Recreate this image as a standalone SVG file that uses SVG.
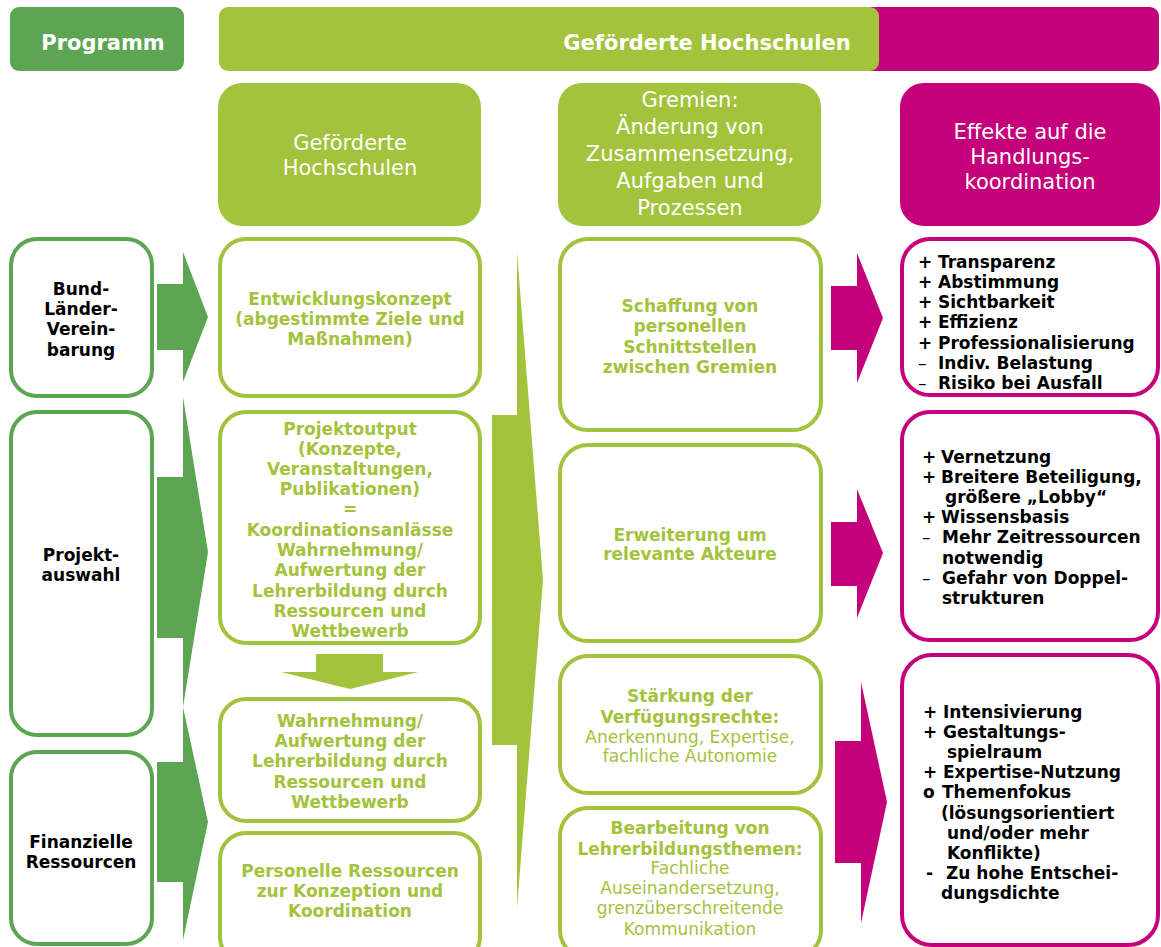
<svg xmlns="http://www.w3.org/2000/svg" width="1161" height="947" viewBox="0 0 1161 947">
  <style>
    .t { font-family: "DejaVu Sans", Verdana, sans-serif; font-size: 17px; text-anchor: middle; }
    .l { text-anchor: start; }
    .b { font-weight: bold; }
    .hd { font-family: "DejaVu Sans", Verdana, sans-serif; font-size: 21px; fill: #fff; text-anchor: middle; }
    .bar { font-family: "DejaVu Sans", Verdana, sans-serif; font-size: 21px; font-weight: bold; fill: #fff; text-anchor: middle; }
    .lbox { fill: #fff; stroke: #5CA553; stroke-width: 4; }
    .gbox { fill: #fff; stroke: #A3C33C; stroke-width: 4; }
    .mbox { fill: #fff; stroke: #C4007A; stroke-width: 4; }
    .gtx { fill: #A3C33C; }
    .ktx { fill: #000; }
    .dg { fill: #5CA553; }
    .lg { fill: #A3C33C; }
    .mg { fill: #C4007A; }
  </style>

  <rect width="1161" height="947" fill="#fff"/>

  <!-- top bar -->
  <g id="programm">
    <rect class="dg" x="10" y="7" width="174" height="64" rx="9"/>
    <text class="bar" x="103" y="50">Programm</text>
  </g>
  <g id="hochschulen-bar">
    <rect class="mg" x="733" y="7" width="426" height="64" rx="9"/>
    <rect class="lg" x="219" y="7" width="660" height="64" rx="9"/>
    <text class="bar" x="707" y="50">Geförderte Hochschulen</text>
  </g>

  <!-- column headers -->
  <g id="head-hochschulen">
    <rect class="lg" x="218" y="83" width="263" height="143" rx="24"/>
    <text class="hd" x="350" y="150">Geförderte</text>
    <text class="hd" x="350" y="175">Hochschulen</text>
  </g>
  <g id="head-gremien">
    <rect class="lg" x="558" y="83" width="263" height="143" rx="24"/>
    <text class="hd" x="690" y="107">Gremien:</text>
    <text class="hd" x="690" y="134">Änderung von</text>
    <text class="hd" x="690" y="161">Zusammensetzung,</text>
    <text class="hd" x="690" y="188">Aufgaben und</text>
    <text class="hd" x="690" y="215">Prozessen</text>
  </g>
  <g id="head-effekte">
    <rect class="mg" x="900" y="83" width="260" height="143" rx="24"/>
    <text class="hd" x="1030" y="139">Effekte auf die</text>
    <text class="hd" x="1030" y="164">Handlungs-</text>
    <text class="hd" x="1030" y="189">koordination</text>
  </g>

  <!-- programme column -->
  <g id="bund-laender">
    <rect class="lbox" x="11" y="239" width="141" height="157" rx="26"/>
    <text class="t b ktx" x="81" y="295">Bund-</text>
    <text class="t b ktx" x="81" y="315">Länder-</text>
    <text class="t b ktx" x="81" y="335">Verein-</text>
    <text class="t b ktx" x="81" y="356">barung</text>
  </g>
  <g id="projektauswahl">
    <rect class="lbox" x="11" y="412" width="141" height="323" rx="26"/>
    <text class="t b ktx" x="81" y="561">Projekt-</text>
    <text class="t b ktx" x="81" y="581">auswahl</text>
  </g>
  <g id="finanzen">
    <rect class="lbox" x="11" y="752" width="141" height="192" rx="26"/>
    <text class="t b ktx" x="81" y="848">Finanzielle</text>
    <text class="t b ktx" x="81" y="868">Ressourcen</text>
  </g>

  <!-- universities column -->
  <g id="entwicklungskonzept">
    <rect class="gbox" x="220" y="239" width="260" height="157" rx="26"/>
    <text class="t b gtx" x="350" y="305">Entwicklungskonzept</text>
    <text class="t b gtx" x="350" y="325">(abgestimmte Ziele und</text>
    <text class="t b gtx" x="350" y="345">Maßnahmen)</text>
  </g>
  <g id="projektoutput">
    <rect class="gbox" x="220" y="412" width="260" height="231" rx="26"/>
    <text class="t b gtx" x="350" y="435">Projektoutput</text>
    <text class="t b gtx" x="350" y="455">(Konzepte,</text>
    <text class="t b gtx" x="350" y="475">Veranstaltungen,</text>
    <text class="t b gtx" x="350" y="495">Publikationen)</text>
    <text class="t b gtx" x="350" y="515">=</text>
    <text class="t b gtx" x="350" y="536">Koordinationsanlässe</text>
    <text class="t b gtx" x="350" y="556">Wahrnehmung/</text>
    <text class="t b gtx" x="350" y="576">Aufwertung der</text>
    <text class="t b gtx" x="350" y="597">Lehrerbildung durch</text>
    <text class="t b gtx" x="350" y="617">Ressourcen und</text>
    <text class="t b gtx" x="350" y="637">Wettbewerb</text>
  </g>
  <g id="wahrnehmung">
    <rect class="gbox" x="220" y="699" width="260" height="122" rx="26"/>
    <text class="t b gtx" x="350" y="727">Wahrnehmung/</text>
    <text class="t b gtx" x="350" y="747">Aufwertung der</text>
    <text class="t b gtx" x="350" y="767">Lehrerbildung durch</text>
    <text class="t b gtx" x="350" y="788">Ressourcen und</text>
    <text class="t b gtx" x="350" y="808">Wettbewerb</text>
  </g>
  <g id="personelle-ressourcen">
    <rect class="gbox" x="220" y="833" width="260" height="130" rx="26"/>
    <text class="t b gtx" x="350" y="877">Personelle Ressourcen</text>
    <text class="t b gtx" x="350" y="897">zur Konzeption und</text>
    <text class="t b gtx" x="350" y="917">Koordination</text>
  </g>

  <!-- committees column -->
  <g id="schnittstellen">
    <rect class="gbox" x="560" y="239" width="261" height="191" rx="28"/>
    <text class="t b gtx" x="690" y="312">Schaffung von</text>
    <text class="t b gtx" x="690" y="332">personellen</text>
    <text class="t b gtx" x="690" y="353">Schnittstellen</text>
    <text class="t b gtx" x="690" y="373">zwischen Gremien</text>
  </g>
  <g id="akteure">
    <rect class="gbox" x="560" y="445" width="261" height="196" rx="28"/>
    <text class="t b gtx" x="690" y="541">Erweiterung um</text>
    <text class="t b gtx" x="690" y="560">relevante Akteure</text>
  </g>
  <g id="verfuegungsrechte">
    <rect class="gbox" x="560" y="656" width="261" height="137" rx="28"/>
    <text class="t b gtx" x="690" y="702">Stärkung der</text>
    <text class="t b gtx" x="690" y="723">Verfügungsrechte:</text>
    <text class="t gtx" x="690" y="743">Anerkennung, Expertise,</text>
    <text class="t gtx" x="690" y="762">fachliche Autonomie</text>
  </g>
  <g id="themen">
    <rect class="gbox" x="560" y="808" width="261" height="150" rx="28"/>
    <text class="t b gtx" x="690" y="834">Bearbeitung von</text>
    <text class="t b gtx" x="690" y="855">Lehrerbildungsthemen:</text>
    <text class="t gtx" x="690" y="874">Fachliche</text>
    <text class="t gtx" x="690" y="894">Auseinandersetzung,</text>
    <text class="t gtx" x="690" y="914">grenzüberschreitende</text>
    <text class="t gtx" x="690" y="935">Kommunikation</text>
  </g>

  <!-- effects column -->
  <g id="effekte-1">
    <rect class="mbox" x="902" y="239" width="256" height="156" rx="28"/>
    <g class="t l b ktx">
      <text x="918" y="268">+<tspan x="938">Transparenz</tspan></text>
      <text x="918" y="288">+<tspan x="938">Abstimmung</tspan></text>
      <text x="918" y="308">+<tspan x="938">Sichtbarkeit</tspan></text>
      <text x="918" y="328">+<tspan x="938">Effizienz</tspan></text>
      <text x="918" y="349">+<tspan x="938">Professionalisierung</tspan></text>
      <text x="918" y="369" font-weight="normal">–<tspan x="938" font-weight="bold">Indiv. Belastung</tspan></text>
      <text x="918" y="389" font-weight="normal">–<tspan x="938" font-weight="bold">Risiko bei Ausfall</tspan></text>
    </g>
  </g>
  <g id="effekte-2">
    <rect class="mbox" x="902" y="412" width="256" height="228" rx="28"/>
    <g class="t l b ktx">
      <text x="922" y="463">+<tspan x="941">Vernetzung</tspan></text>
      <text x="922" y="483">+<tspan x="941">Breitere Beteiligung,</tspan></text>
      <text x="945" y="503">größere „Lobby“</text>
      <text x="922" y="523">+<tspan x="941">Wissensbasis</tspan></text>
      <text x="922" y="543" font-weight="normal">–<tspan x="942" font-weight="bold">Mehr Zeitressourcen</tspan></text>
      <text x="942" y="564">notwendig</text>
      <text x="922" y="584" font-weight="normal">–<tspan x="942" font-weight="bold">Gefahr von Doppel-</tspan></text>
      <text x="942" y="604">strukturen</text>
    </g>
  </g>
  <g id="effekte-3">
    <rect class="mbox" x="902" y="655" width="256" height="290" rx="30"/>
    <g class="t l b ktx">
      <text x="923" y="718">+<tspan x="943">Intensivierung</tspan></text>
      <text x="923" y="738">+<tspan x="943">Gestaltungs-</tspan></text>
      <text x="947" y="758">spielraum</text>
      <text x="923" y="778">+<tspan x="943">Expertise-Nutzung</tspan></text>
      <text x="923" y="798">o<tspan x="942">Themenfokus</tspan></text>
      <text x="941" y="819">(lösungsorientiert</text>
      <text x="947" y="839">und/oder mehr</text>
      <text x="947" y="859">Konflikte)</text>
      <text x="926" y="879">-<tspan x="946">Zu hohe Entschei-</tspan></text>
      <text x="941" y="899">dungsdichte</text>
    </g>
  </g>

  <!-- connectors -->
  <g id="connectors">
    <polygon class="dg" points="157,284 183,284 183,252 208,317 183,382 183,350 157,350"/>
    <polygon class="dg" points="157,477 183,477 183,397 208,552 183,707 183,638 157,638"/>
    <polygon class="dg" points="157,762 183,762 183,707 208,822 183,940 183,882 157,882"/>
    <polygon class="lg" points="316,654 383,654 383,672 418,672 350,689 281,672 316,672"/>
    <polygon class="lg" points="517,252 543,580 517,908 517,745 492,745 492,415 517,415"/>
    <polygon class="mg" points="831,286 857,286 857,253 883,318 857,383 857,350 831,350"/>
    <polygon class="mg" points="831,522 857,522 857,489 883,553 857,618 857,586 831,586"/>
    <polygon class="mg" points="835,741 861,741 861,682 887,802 861,923 861,863 835,863"/>
  </g>
</svg>
